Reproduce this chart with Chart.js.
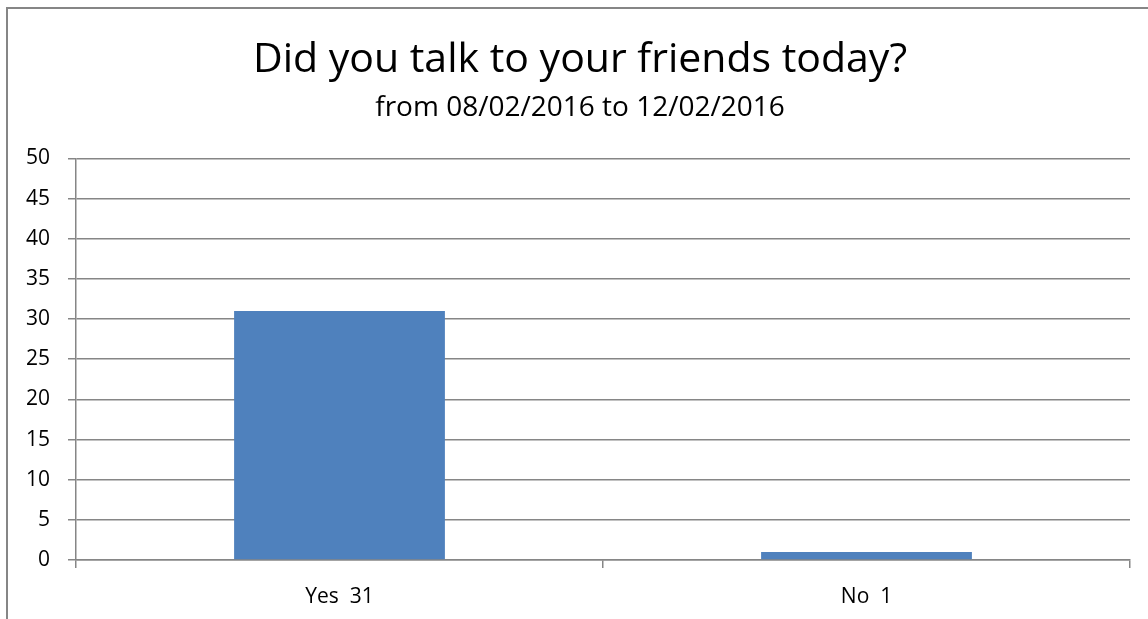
<!DOCTYPE html>
<html>
<head>
<meta charset="utf-8">
<script src="https://cdn.jsdelivr.net/npm/chart.js@4/dist/chart.umd.min.js"></script>
<style>
html,body{margin:0;padding:0;background:#fff;overflow:hidden;}
#wrap{position:absolute;left:0;top:0;width:1148px;height:619px;}
</style>
</head>
<body>
<div id="wrap"><canvas id="c" width="1148" height="619"></canvas></div>
<script>
const categories = ["Yes", "No"];
const counts = [31, 1];
const yTicks = [0, 5, 10, 15, 20, 25, 30, 35, 40, 45, 50];
const titleText = "Did you talk to your friends today?";
const subtitleText = "from 08/02/2016 to 12/02/2016";

const labels = categories.map((c, i) => c + "  " + counts[i]);
const FONT = "'Open Sans', Lato, sans-serif";
const GRID = "#868686";

const frame = {
  id: "frame",
  afterLayout(chart) {
    // let the y-axis labels use the space left of the layout padding
    const y = chart.scales.y;
    y.width = y.right;
    y.left = 0;
  },
  beforeDraw(chart) {
    const ctx = chart.ctx;
    ctx.save();
    ctx.fillStyle = "#fff";
    ctx.fillRect(0, 0, chart.width, chart.height);
    ctx.strokeStyle = GRID;
    ctx.lineWidth = 2;
    ctx.beginPath();
    ctx.moveTo(7, chart.height + 5);
    ctx.lineTo(7, 8);
    ctx.lineTo(chart.width + 5, 8);
    ctx.stroke();
    ctx.restore();
  }
};

new Chart(document.getElementById("c"), {
  type: "bar",
  data: {
    labels: labels,
    datasets: [{
      data: counts,
      backgroundColor: "#4F81BD",
      borderWidth: 0,
      categoryPercentage: 0.4,
      barPercentage: 1.0
    }]
  },
  options: {
    responsive: false,
    animation: false,
    devicePixelRatio: 1,
    layout: { padding: { left: 30, right: 18, top: 0, bottom: 14 } },
    plugins: {
      legend: { display: false },
      tooltip: { enabled: false },
      title: {
        display: true,
        text: titleText,
        color: "#000",
        font: { family: FONT, size: 41, weight: "normal", lineHeight: 1.2 },
        padding: { top: 36, bottom: 6 }
      },
      subtitle: {
        display: true,
        text: subtitleText,
        color: "#000",
        font: { family: FONT, size: 28, weight: "normal", lineHeight: 1.2 },
        padding: { top: 0, bottom: 33.6 }
      }
    },
    scales: {
      x: {
        offset: true,
        afterFit(scale) { scale.height = 45; },
        grid: {
          offset: true,
          drawOnChartArea: false,
          drawTicks: true,
          tickLength: 8,
          color: GRID,
          lineWidth: 1.5
        },
        border: { display: true, color: GRID, width: 1.5 },
        ticks: { color: "#000", font: { family: FONT, size: 21, lineHeight: 1.2 }, padding: 16, maxRotation: 0 }
      },
      y: {
        min: 0,
        max: 50,
        afterBuildTicks(scale) { scale.ticks = yTicks.map(v => ({ value: v })); },
        afterFit(scale) { scale.width = 46; },
        grid: {
          color: GRID,
          lineWidth: 1.5,
          drawTicks: true,
          tickLength: 8
        },
        border: { display: true, color: GRID, width: 1.5 },
        ticks: { color: "#000", font: { family: FONT, size: 21 }, padding: 18 }
      }
    }
  },
  plugins: [frame]
});
</script>
</body>
</html>
